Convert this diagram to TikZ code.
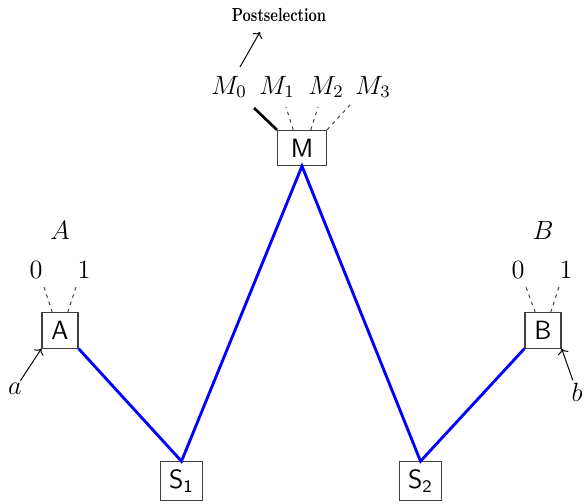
\documentclass[tikz,border=0pt]{standalone}
\usepackage{amsmath}
\usetikzlibrary{arrows.meta,positioning}

\begin{document}
\begin{tikzpicture}[
  x=0.455pt, y=-0.455pt,
  dev/.style={draw=black!75, line width=0.5pt, font=\large\sffamily, inner sep=0pt,
              minimum width=16.4pt, minimum height=16pt},
  lab/.style={font=\large, inner sep=1pt},
  link/.style={blue, line width=1.3pt},
  outleg/.style={draw=black!75, dash pattern=on 1.6pt off 1.9pt, line width=0.45pt},
  arr/.style={-{To[length=2.4pt]}, line width=0.45pt}
]
\useasboundingbox (0,0) rectangle (584,504);
% devices
\node[dev, minimum width=22.3pt] (M) at (302,148) {M};
\node[dev] (A) at (60,330.5) {A};
\node[dev] (B) at (543,330.5) {B};
\node[dev, minimum width=18.8pt, minimum height=17.5pt] (S1) at (181.5,481) {$\mathsf{S_1}$};
\node[dev, minimum width=18.8pt, minimum height=17.5pt] (S2) at (420.5,481) {$\mathsf{S_2}$};
% labels
\node[lab] (Alab) at (60,230) {$A$};
\node[lab] (Blab) at (543,230) {$B$};
\node[lab] (A0) at (36,270) {0};
\node[lab] (A1) at (84,270) {1};
\node[lab] (B0) at (518,270) {0};
\node[lab] (B1) at (566,270) {1};
\node[lab] (a) at (15,389) {$a$};
\node[lab] (b) at (577,392) {$b$};
\node[lab] (M0) at (229,87) {$M_0$};
\node[lab] (M1) at (277,87) {$M_1$};
\node[lab] (M2) at (326,87) {$M_2$};
\node[lab] (M3) at (373,87) {$M_3$};
\node[font=\fontsize{8.6}{10}\selectfont\bfseries] (post) at (279,15)
  {\scalebox{0.74}[1]{Postselection}};
% loose ends
\coordinate (A0e) at (44,287);
\coordinate (A1e) at (76,287);
\coordinate (B0e) at (526,287);
\coordinate (B1e) at (559,287);
\coordinate (M0e) at (254,108);
\coordinate (M1e) at (286,107);
\coordinate (M2e) at (318,107);
\coordinate (M3e) at (350,105);
\coordinate (ps0) at (240,67);
\coordinate (ps1) at (260,32);
% channels
\draw[link] (A.south east) -- (S1.north) -- (M.south) -- (S2.north) -- (B.south west);
% outputs
\draw[outleg] ([xshift=-3.5pt]A.north) -- (A0e);
\draw[outleg] ([xshift=3.5pt]A.north) -- (A1e);
\draw[outleg] ([xshift=-3.5pt]B.north) -- (B0e);
\draw[outleg] ([xshift=3.5pt]B.north) -- (B1e);
\draw[line width=1.2pt] (M.north west) -- (M0e);
\draw[outleg] ([xshift=-4pt]M.north) -- (M1e);
\draw[outleg] ([xshift=4pt]M.north) -- (M2e);
\draw[outleg] (M.north east) -- (M3e);
% inputs
\draw[arr] (a) -- (A.south west);
\draw[arr] (b) -- (B.south east);
\draw[arr] (ps0) -- (ps1);
\end{tikzpicture}
\end{document}
